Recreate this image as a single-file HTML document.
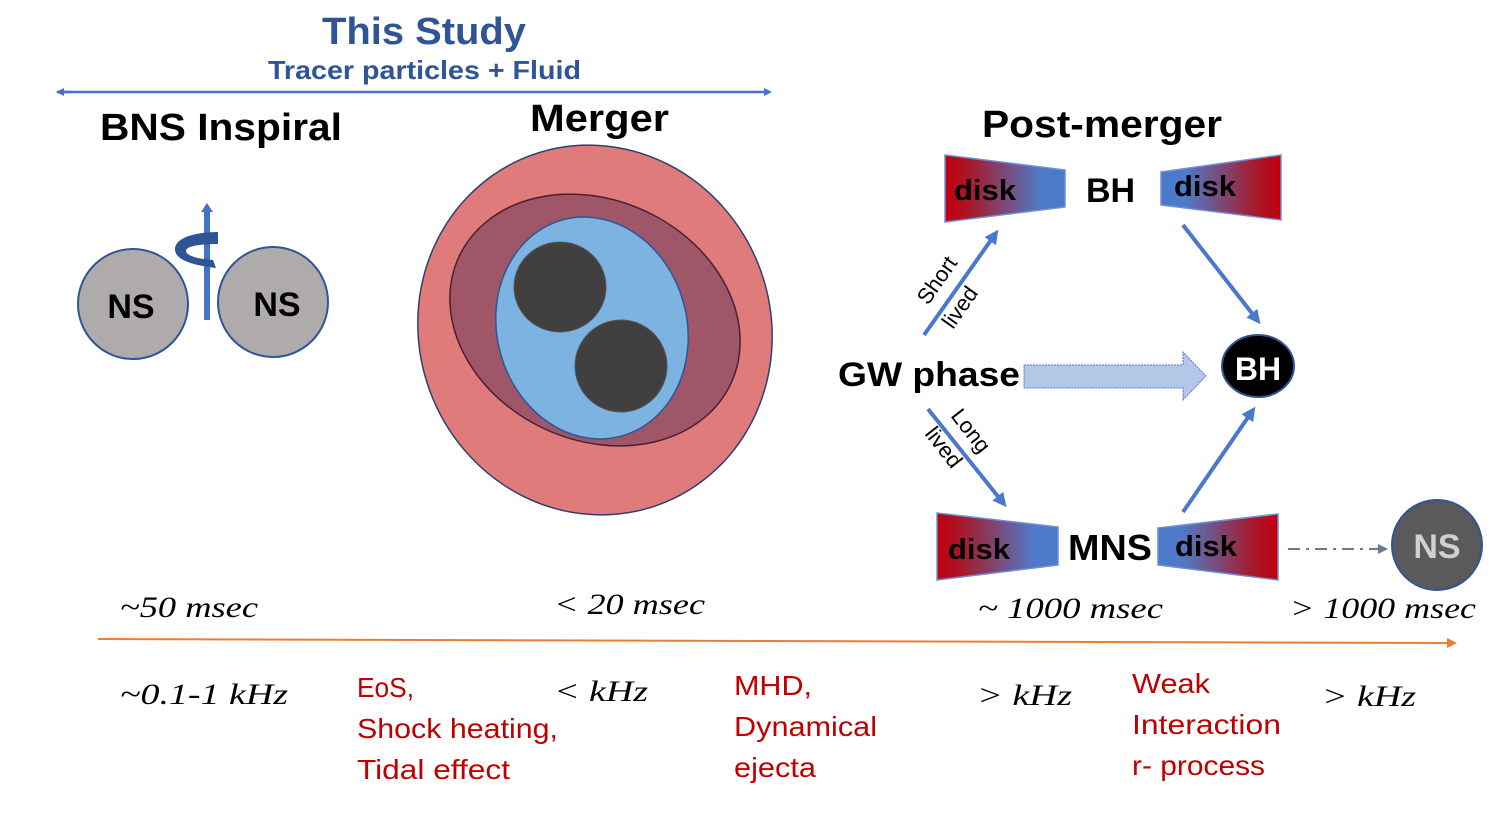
<!DOCTYPE html>
<html><head><meta charset="utf-8"><style>
html,body{margin:0;padding:0;background:#fff;}
svg{display:block;}
</style></head><body>
<svg width="1493" height="840" viewBox="0 0 1493 840" xmlns="http://www.w3.org/2000/svg">
<defs>
<linearGradient id="gl" x1="0" x2="1" y1="0" y2="0"><stop offset="0" stop-color="#c00010"/><stop offset="0.2" stop-color="#a81828"/><stop offset="0.8" stop-color="#4f7ac8"/><stop offset="1" stop-color="#4a7acb"/></linearGradient>
<linearGradient id="gr" x1="0" x2="1" y1="0" y2="0"><stop offset="0" stop-color="#4a7acb"/><stop offset="0.2" stop-color="#4f7ac8"/><stop offset="0.8" stop-color="#a81828"/><stop offset="1" stop-color="#c00010"/></linearGradient>
<marker id="ah" markerWidth="8" markerHeight="8" refX="6" refY="4" orient="auto" markerUnits="userSpaceOnUse"><path d="M0,0 L8,4 L0,8 Z" fill="#4472c4"/></marker>
<marker id="ah2" markerWidth="14" markerHeight="14" refX="10" refY="7" orient="auto" markerUnits="userSpaceOnUse"><path d="M0,0 L14,7 L0,14 Z" fill="#4a78cc"/></marker>
<marker id="ah3" markerWidth="10" markerHeight="10" refX="8" refY="5" orient="auto" markerUnits="userSpaceOnUse"><path d="M0,0 L10,5 L0,10 Z" fill="#6a7a96"/></marker>
<marker id="ah4" markerWidth="10" markerHeight="10" refX="8" refY="5" orient="auto" markerUnits="userSpaceOnUse"><path d="M0,0 L10,5 L0,10 Z" fill="#ed7d31"/></marker>
</defs>
<g font-family="Liberation Sans, sans-serif" font-weight="bold">
<text x="322" y="44" font-size="38" fill="#2f5597" textLength="204" lengthAdjust="spacingAndGlyphs">This Study</text>
<text x="268" y="79" font-size="26" fill="#2f5597" textLength="313" lengthAdjust="spacingAndGlyphs">Tracer particles + Fluid</text>
<text x="100" y="140" font-size="38" textLength="242" lengthAdjust="spacingAndGlyphs">BNS Inspiral</text>
<text x="530" y="131" font-size="38" textLength="139" lengthAdjust="spacingAndGlyphs">Merger</text>
<text x="982" y="137" font-size="38" textLength="240" lengthAdjust="spacingAndGlyphs">Post-merger</text>
</g>
<line x1="64" y1="92" x2="770" y2="92" stroke="#4472c4" stroke-width="2.5" marker-end="url(#ah)"/>
<path d="M70,92 L57,92" stroke="#4472c4" stroke-width="2.5"/><path d="M56,92 L64,88 L64,96 Z" fill="#4472c4"/>
<circle cx="133" cy="304" r="55" fill="#afabab" stroke="#2f5597" stroke-width="2"/>
<circle cx="273" cy="302" r="55" fill="#afabab" stroke="#2f5597" stroke-width="2"/>
<rect x="204" y="212" width="6" height="108" fill="#4472c4"/>
<path d="M201,212 L207,203 L213,212 Z" fill="#4472c4"/>
<path d="M218,232 C195,232 174,238 175,250 C176,262 200,266 216,268 L213,260 C196,259 186,255 186,251 C186,246 200,244 218,244 Z" fill="#2f5597"/>
<g font-family="Liberation Sans, sans-serif" font-weight="bold" font-size="34" text-anchor="middle">
<text x="131" y="318">NS</text><text x="277" y="316">NS</text>
</g>
<ellipse cx="595" cy="330" rx="176" ry="186" transform="rotate(-20 595 330)" fill="#e07b7b" stroke="#2f3f6f" stroke-width="1.5"/>
<ellipse cx="595" cy="320" rx="150" ry="120" transform="rotate(25 595 320)" fill="#9e5668" stroke="#4a2030" stroke-width="1.5"/>
<ellipse cx="592" cy="328" rx="95" ry="112" transform="rotate(-15 592 328)" fill="#7db3e0" stroke="#2f5597" stroke-width="1.5"/>
<ellipse cx="560" cy="287" rx="46" ry="45" fill="#404040" stroke="#555" stroke-width="1"/>
<ellipse cx="621" cy="366" rx="46" ry="46" fill="#404040" stroke="#555" stroke-width="1"/>
<polygon points="945,155 1065,170 1065,207 945,222" fill="url(#gl)" stroke="#6f8fd6" stroke-width="1.5"/>
<polygon points="1161,172 1281,155 1281,220 1161,205" fill="url(#gr)" stroke="#6f8fd6" stroke-width="1.5"/>
<polygon points="937,513 1058,527 1058,565 937,580" fill="url(#gl)" stroke="#6f8fd6" stroke-width="1.5"/>
<polygon points="1158,528 1278,514 1278,580 1158,565" fill="url(#gr)" stroke="#6f8fd6" stroke-width="1.5"/>
<g font-family="Liberation Sans, sans-serif" font-weight="bold" font-size="29">
<text x="954" y="200" textLength="62" lengthAdjust="spacingAndGlyphs">disk</text><text x="1174" y="196" textLength="62" lengthAdjust="spacingAndGlyphs">disk</text>
<text x="948" y="559" textLength="62" lengthAdjust="spacingAndGlyphs">disk</text><text x="1175" y="556" textLength="62" lengthAdjust="spacingAndGlyphs">disk</text>
<text x="1086" y="202" font-size="34">BH</text>
<text x="1068" y="560" font-size="36" textLength="84" lengthAdjust="spacingAndGlyphs">MNS</text>
<text x="838" y="386" font-size="34" textLength="182" lengthAdjust="spacingAndGlyphs">GW phase</text>
</g>
<line x1="924" y1="335" x2="996" y2="233" stroke="#4a78cc" stroke-width="4" marker-end="url(#ah2)"/>
<line x1="928" y1="409" x2="1004" y2="504" stroke="#4a78cc" stroke-width="4" marker-end="url(#ah2)"/>
<line x1="1183" y1="225" x2="1258" y2="321" stroke="#4a78cc" stroke-width="4" marker-end="url(#ah2)"/>
<line x1="1183" y1="512" x2="1253" y2="410" stroke="#4a78cc" stroke-width="4" marker-end="url(#ah2)"/>
<path d="M1024,365 L1183,365 L1183,352 L1206,376 L1183,400 L1183,388 L1024,388 Z" fill="#b4c7e7" stroke="#4a78cc" stroke-width="1" stroke-dasharray="2,1"/>
<g font-family="Liberation Sans, sans-serif" font-size="22">
<text transform="translate(928,306) rotate(-55)">Short</text>
<text transform="translate(953,330) rotate(-55)">lived</text>
<text transform="translate(950,416) rotate(52)">Long</text>
<text transform="translate(924,434) rotate(52)">lived</text>
</g>
<ellipse cx="1258" cy="366" rx="36" ry="31" fill="#000" stroke="#2f5597" stroke-width="2"/>
<text x="1258" y="380" font-family="Liberation Sans, sans-serif" font-weight="bold" font-size="32" fill="#fff" text-anchor="middle">BH</text>
<line x1="1288" y1="549" x2="1386" y2="549" stroke="#6a7a96" stroke-width="2" stroke-dasharray="12,6,3,6" marker-end="url(#ah3)"/>
<circle cx="1437" cy="545" r="45" fill="#5a5a5a" stroke="#2f5597" stroke-width="2"/>
<text x="1437" y="558" font-family="Liberation Sans, sans-serif" font-weight="bold" font-size="34" fill="#d0d0d0" text-anchor="middle">NS</text>
<line x1="98" y1="639" x2="1455" y2="643" stroke="#ed7d31" stroke-width="2" marker-end="url(#ah4)"/>
<g font-family="Liberation Serif, serif" font-style="italic" font-size="30" lengthAdjust="spacingAndGlyphs">
<text x="120" y="617" textLength="138" lengthAdjust="spacingAndGlyphs">~50 msec</text>
<text x="554" y="614" textLength="151" lengthAdjust="spacingAndGlyphs">&lt; 20 msec</text>
<text x="978" y="618" textLength="185" lengthAdjust="spacingAndGlyphs">~ 1000 msec</text>
<text x="1290" y="618" textLength="186" lengthAdjust="spacingAndGlyphs">&gt; 1000 msec</text>
<text x="120" y="704" textLength="168" lengthAdjust="spacingAndGlyphs">~0.1-1 kHz</text>
<text x="554" y="701" textLength="94" lengthAdjust="spacingAndGlyphs">&lt; kHz</text>
<text x="977" y="705" textLength="95" lengthAdjust="spacingAndGlyphs">&gt; kHz</text>
<text x="1322" y="706" textLength="94" lengthAdjust="spacingAndGlyphs">&gt; kHz</text>
</g>
<g font-family="Liberation Sans, sans-serif" font-size="28" fill="#c00000">
<text x="357" y="697" textLength="57" lengthAdjust="spacingAndGlyphs">EoS,</text><text x="357" y="738" textLength="201" lengthAdjust="spacingAndGlyphs">Shock heating,</text><text x="357" y="779" textLength="153" lengthAdjust="spacingAndGlyphs">Tidal effect</text>
<text x="734" y="695" textLength="78" lengthAdjust="spacingAndGlyphs">MHD,</text><text x="734" y="736" textLength="143" lengthAdjust="spacingAndGlyphs">Dynamical</text><text x="734" y="777" textLength="82" lengthAdjust="spacingAndGlyphs">ejecta</text>
<text x="1132" y="693" textLength="78" lengthAdjust="spacingAndGlyphs">Weak</text><text x="1132" y="734" textLength="149" lengthAdjust="spacingAndGlyphs">Interaction</text><text x="1132" y="775" textLength="133" lengthAdjust="spacingAndGlyphs">r- process</text>
</g>
</svg>
</body></html>
